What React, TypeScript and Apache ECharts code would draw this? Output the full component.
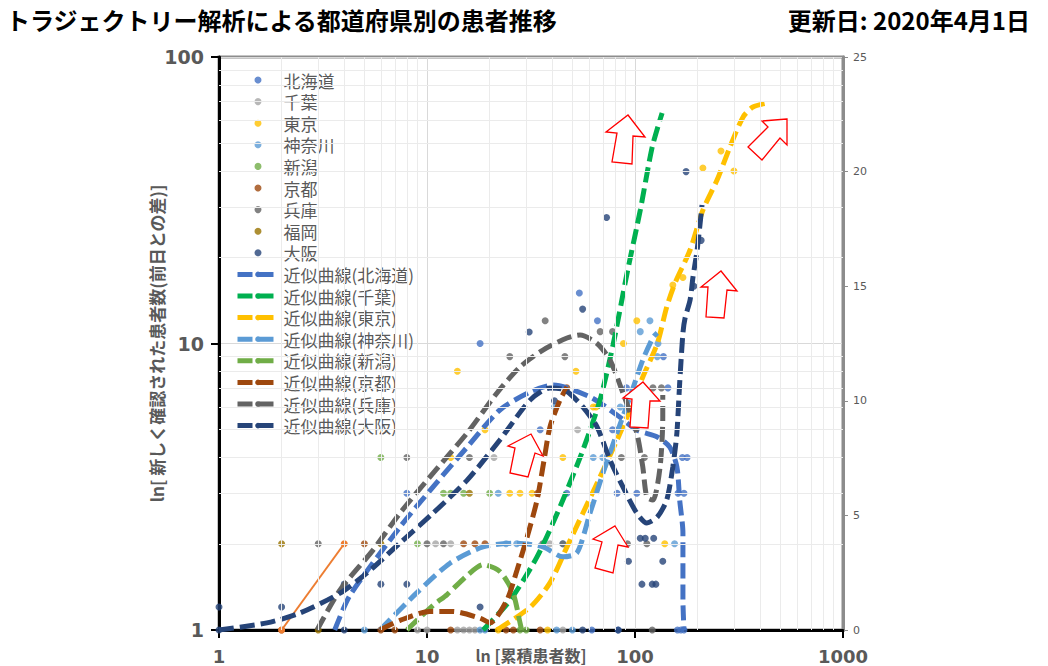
import React, { useEffect, useRef } from "react";
import * as echarts from "echarts";

const TITLE = "トラジェクトリー解析による都道府県別の患者推移";
const UPDATED = "更新日: 2020年4月1日";
const X_NAME = "ln [累積患者数]";
const Y_NAME = "ln[ 新しく確認された患者数(前日との差)]";

// minor grid values (log decades)
const X_MINOR = [2, 3, 4, 5, 6, 7, 8, 9, 20, 30, 40, 50, 60, 70, 80, 90, 200, 300, 400, 500, 600, 700, 800, 900];
const Y_MINOR = [2, 3, 4, 5, 6, 7, 8, 9, 20, 30, 40, 50, 60, 70, 80, 90];

// scatter data: [cumulative patients, new patients]
const hokkaido = [[18, 10], [54, 15], [66, 12], [35, 5], [8, 3], [91, 7], [144, 7], [62, 1], [83, 1], [160, 1], [166, 1], [172, 1], [169, 4], [178, 4], [78, 5], [83, 5], [82, 3], [102, 3], [161, 3], [172, 3], [137, 9], [47, 3]];
const chiba = [[9, 1], [10, 1], [14, 1], [15, 1], [16, 1], [17, 1], [45, 1], [11, 2], [13, 2], [39, 2], [21, 4], [53, 5]];
const tokyo = [[22, 1], [38, 1], [139, 2], [25, 3], [28, 3], [32, 3], [45, 4], [13, 4], [19, 5], [63, 6], [65, 6], [14, 8], [52, 8], [88, 10], [102, 12], [152, 16], [170, 17], [212, 41], [259, 47], [299, 40]];
const kanagawa = [[5, 1], [18, 1], [19, 1], [42, 1], [50, 1], [24, 2], [27, 2], [45, 2], [155, 2], [22, 3], [63, 4], [70, 4], [41, 6], [85, 6], [128, 9], [129, 10], [106, 11], [118, 12]];
const niigata = [[28, 1], [30, 1], [9, 2], [12, 3], [13, 3], [15, 3], [20, 3], [6, 4]];
const kyoto = [[2, 1], [6, 1], [7, 1], [13, 1], [24, 1], [26, 1], [35, 1], [5, 2], [15, 2], [17, 2], [19, 2], [34, 3], [47, 7]];
const hyogo = [[121, 1], [3, 2], [10, 2], [12, 2], [36, 2], [45, 2], [92, 2], [114, 2], [8, 4], [16, 4], [86, 4], [111, 4], [122, 7], [134, 7], [25, 9], [46, 9], [68, 11], [78, 11], [37, 12]];
const fukuoka = [[3, 1], [2, 2], [6, 2], [16, 3]];
// Osaka plotted on the secondary (linear) axis
const osaka = [[1, 1], [1, 0], [2, 1], [4, 2], [4, 0], [6, 2], [8, 2], [18, 1], [31, 13], [41, 10], [56, 14], [56, 0], [73, 18], [83, 0], [93, 3], [106, 4], [112, 4], [123, 4], [108, 2], [121, 2], [126, 2], [136, 3], [176, 20], [192, 15], [208, 17]];
const orangeLine = [[2, 1], [4, 2]];

// fitted curves
const fitHokkaido = [[3.6, 1], [4.26, 1.32], [7.42, 2.29], [10.7, 3.16], [15.6, 4.35], [22.4, 5.86], [31.3, 6.77], [40.4, 7.16], [60.8, 6.51], [81.9, 5.63], [102, 4.99], [128, 4.72], [147, 4.35], [159, 3.71], [164, 2.84], [170, 2.18], [170, 1.27], [172, 1]];
const fitChiba = [[18.6, 1], [25.1, 1.27], [33.8, 1.8], [43.6, 2.69], [56.2, 4.25], [67.9, 6.35], [78.4, 9.88], [91.6, 17.6], [106, 29.2], [121, 48.5], [135, 63.8]];
const fitTokyo = [[21.7, 1], [31.3, 1.2], [39, 1.46], [47.1, 1.95], [56.2, 2.56], [67.9, 3.42], [81.9, 4.6], [94.6, 5.86], [109, 7.64], [128, 10], [142, 13.4], [156, 16.3], [184, 21.2], [212, 29.2], [248, 37.2], [286, 48.5], [331, 61.8], [369, 66.9], [436, 69.1]];
const fitKanagawa = [[5.94, 1], [8.95, 1.35], [12.9, 1.71], [18.6, 1.95], [27.1, 2.01], [36.1, 1.95], [45.1, 1.8], [52.6, 1.86], [60.8, 2.56], [70.2, 3.53], [81.9, 4.87], [94.6, 6.51], [109, 8.76], [122, 10.5], [128, 10.9]];
const fitNiigata = [[8, 1], [10.7, 1.22], [12.5, 1.33], [15.6, 1.55], [18.6, 1.69], [22.4, 1.6], [25.9, 1.35], [28, 1.06], [28.5, 1]];
const fitKyoto = [[5.94, 1], [7.42, 1.08], [10.3, 1.16], [13.3, 1.16], [18, 1.1], [20.1, 1.06], [24.2, 1.27], [27.1, 1.62], [30.3, 2.11], [33.8, 2.84], [36.5, 3.9], [39, 5.11], [43.6, 6.35], [47.1, 7.05]];
const fitHyogo = [[2.96, 1], [3.82, 1.38], [5.5, 1.9], [7.42, 2.56], [10.7, 3.53], [15.6, 4.87], [21.7, 6.72], [28, 8.28], [36.1, 9.49], [47.1, 10.45], [54.4, 10.7], [65.7, 10.0], [75.8, 8.76], [87.5, 6.72], [102, 4.87], [109, 3.71], [114, 2.91], [122, 2.84], [132, 3.71], [136, 5.54], [136, 6.61]];
const fitOsaka = [[1, 0], [1.7, 0.31], [2.45, 0.74], [3.82, 1.61], [5.15, 2.49], [7.42, 3.8], [10.7, 5.1], [15.6, 6.54], [22.4, 8.29], [31.3, 10.03], [39, 10.56], [46.1, 10.47], [56.2, 9.73], [65.7, 8.86], [75.8, 7.42], [87.5, 6.24], [102, 5.1], [114, 4.67], [128, 4.93], [142, 5.67], [152, 7.11], [159, 8.6], [164, 10.78], [170, 12.96], [174, 13.6], [184, 14.4], [190, 15.4], [199, 16.58], [210, 18.54]];

const JP = "'Noto Sans CJK JP', sans-serif";
const NUM = "'DejaVu Sans', sans-serif";

const scatterDefs = [
  { name: "北海道", data: hokkaido, color: "#4472C4" },
  { name: "千葉", data: chiba, color: "#A5A5A5" },
  { name: "東京", data: tokyo, color: "#FFC000" },
  { name: "神奈川", data: kanagawa, color: "#5B9BD5" },
  { name: "新潟", data: niigata, color: "#70AD47" },
  { name: "京都", data: kyoto, color: "#9E480E" },
  { name: "兵庫", data: hyogo, color: "#636363" },
  { name: "福岡", data: fukuoka, color: "#997300" },
  { name: "大阪", data: osaka, color: "#264478", secondary: true },
];

const fitDefs = [
  { name: "近似曲線(北海道)", data: fitHokkaido, color: "#4472C4" },
  { name: "近似曲線(千葉)", data: fitChiba, color: "#00B050" },
  { name: "近似曲線(東京)", data: fitTokyo, color: "#FFC000" },
  { name: "近似曲線(神奈川)", data: fitKanagawa, color: "#5B9BD5" },
  { name: "近似曲線(新潟)", data: fitNiigata, color: "#70AD47" },
  { name: "近似曲線(京都)", data: fitKyoto, color: "#9E480E" },
  { name: "近似曲線(兵庫)", data: fitHyogo, color: "#636363" },
  { name: "近似曲線(大阪)", data: fitOsaka, color: "#264478", secondary: true },
];

// annotation arrows (pixel outlines)
const arrows = [
  [[628, 115], [645, 137], [633, 136], [632, 164], [612, 162], [617, 133], [606, 132]],
  [[787, 119], [762, 121], [768, 127], [748, 147], [762, 160], [780, 138], [787, 145]],
  [[721, 271], [737, 291], [727, 290], [724, 318], [706, 317], [708, 287], [701, 287]],
  [[531, 434], [543, 456], [535, 453], [528, 477], [510, 473], [515, 448], [508, 446]],
  [[643, 382], [660, 401], [650, 401], [648, 428], [630, 427], [632, 399], [623, 398]],
  [[615, 526], [628, 547], [618, 545], [613, 573], [595, 568], [602, 542], [593, 539]],
];

export default function App() {
  const ref = useRef<HTMLDivElement>(null);
  useEffect(() => {
    if (!ref.current) return;
    const chart = echarts.init(ref.current, undefined, { renderer: "svg" });
    const series: any[] = [];
    series.push({
      name: "grid-helper",
      type: "line",
      data: [],
      z: 1,
      silent: true,
      markLine: {
        silent: true,
        symbol: ["none", "none"],
        label: { show: false },
        lineStyle: { color: "#EBEBEB", type: "solid", width: 1 },
        data: [
          ...X_MINOR.map((v) => ({ xAxis: v })),
          ...Y_MINOR.map((v) => ({ yAxis: v })),
        ],
      },
    });
    scatterDefs.forEach((d) => {
      series.push({
        name: d.name,
        type: "scatter",
        yAxisIndex: d.secondary ? 1 : 0,
        data: d.data,
        symbolSize: 7,
        itemStyle: { color: d.color },
        z: 3,
      });
    });
    series.push({
      name: "orange",
      type: "line",
      data: orangeLine,
      symbol: "circle",
      symbolSize: 7,
      lineStyle: { color: "#ED7D31", width: 2 },
      itemStyle: { color: "#ED7D31" },
      z: 3,
    });
    fitDefs.forEach((d) => {
      series.push({
        name: d.name,
        type: "line",
        yAxisIndex: d.secondary ? 1 : 0,
        data: d.data,
        symbol: "none",
        smooth: 0.25,
        lineStyle: { color: d.color, width: 5, type: [15, 6] },
        itemStyle: { color: d.color },
        z: 4,
      });
    });

    const numFmt = (v: number) => String(Math.round(v));

    chart.setOption({
      animation: false,
      backgroundColor: "#ffffff",
      title: [
        { text: TITLE, left: 6, top: 7, padding: 0, textStyle: { fontSize: 24, fontWeight: "bold", color: "#000", fontFamily: JP } },
        { text: UPDATED, right: 18, top: 7, padding: 0, textStyle: { fontSize: 24, fontWeight: "bold", color: "#000", fontFamily: JP } },
      ],
      grid: {
        left: 219, top: 57, right: 205, bottom: 36,
        containLabel: false,
        outerBoundsMode: "none",
        show: true, borderColor: "#8C8C8C", borderWidth: 3, backgroundColor: "transparent",
      },
      legend: {
        orient: "vertical",
        left: 235,
        top: 71,
        itemWidth: 41,
        itemHeight: 7,
        itemGap: 3.6,
        padding: 0,
        textStyle: { fontSize: 17, color: "#595959", fontFamily: JP, lineHeight: 18 },
        lineStyle: { width: 5 },
        data: [
          ...scatterDefs.map((d) => ({ name: d.name, icon: "circle" })),
          ...fitDefs.map((d) => d.name),
        ],
      },
      xAxis: {
        type: "log",
        logBase: 10,
        min: 1,
        max: 1000,
        name: X_NAME,
        nameLocation: "middle",
        nameGap: 17,
        nameMoveOverlap: false,
        nameTextStyle: { fontSize: 16, fontWeight: "bold", color: "#595959", fontFamily: JP, lineHeight: 16 },
        axisLine: { lineStyle: { color: "#000", width: 3 } },
        axisTick: { show: true, length: 8, lineStyle: { color: "#000", width: 2 } },
        axisLabel: { fontSize: 18, fontWeight: "bold", color: "#595959", fontFamily: NUM, margin: 17, formatter: numFmt },
        splitLine: { show: true, lineStyle: { color: "#D9D9D9", width: 1 } },
      },
      yAxis: [
        {
          type: "log",
          logBase: 10,
          min: 1,
          max: 100,
          position: "left",
          name: Y_NAME,
          nameLocation: "middle",
          nameGap: 54,
          nameMoveOverlap: false,
          nameTextStyle: { fontSize: 17, fontWeight: "bold", color: "#595959", fontFamily: JP },
          axisLine: { show: true, lineStyle: { color: "#000", width: 3 } },
          axisTick: { show: true, length: 8, lineStyle: { color: "#000", width: 2 } },
          axisLabel: { fontSize: 19, fontWeight: "bold", color: "#595959", fontFamily: NUM, margin: 15, formatter: numFmt },
          splitLine: { show: true, lineStyle: { color: "#D9D9D9", width: 1 } },
        },
        {
          type: "value",
          min: 0,
          max: 25,
          interval: 5,
          position: "right",
          axisLine: { show: true, lineStyle: { color: "#8C8C8C", width: 3 } },
          axisTick: { show: true, length: 5, lineStyle: { color: "#8C8C8C", width: 1 } },
          axisLabel: { fontSize: 11, color: "#595959", fontFamily: NUM, margin: 10 },
          splitLine: { show: false },
        },
      ],
      graphic: arrows.map((pts) => ({
        type: "polygon",
        z: 100,
        shape: { points: pts },
        style: { fill: "#ffffff", stroke: "#FF0000", lineWidth: 1.3 },
      })),
      series,
    });
    return () => chart.dispose();
  }, []);
  return <div ref={ref} style={{ position: "absolute", left: 0, top: 0, width: 1048, height: 666 }} />;
}
